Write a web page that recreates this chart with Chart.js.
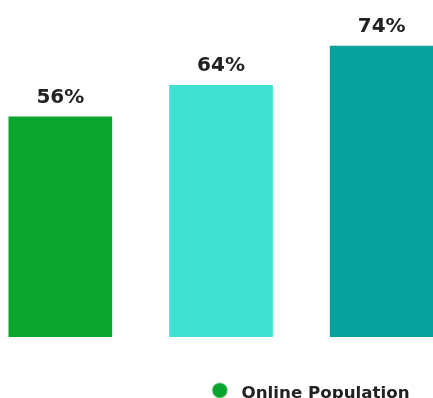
<!DOCTYPE html>
<html>
<head>
<meta charset="utf-8">
<script src="https://cdn.jsdelivr.net/npm/chart.js@4/dist/chart.umd.min.js"></script>
<style>
  html, body { margin: 0; padding: 0; background: #ffffff; overflow: hidden; width: 433px; height: 398px; }
  #wrap { position: absolute; left: -20px; top: 0; }
</style>
</head>
<body>
<div id="wrap"><canvas id="chart" width="666" height="412"></canvas></div>
<script>
// Share of population online, by group
const categories = ['Group A', 'Group B', 'Group C'];
const onlinePopulation = [56, 64, 74];
const barColors = ['#0aa52e', '#3fdfd2', '#06a19a'];
const seriesLabel = 'Online Population';

const textColor = '#222222';
const fontFamily = '"DejaVu Sans", sans-serif';

// Round legend marker, drawn left of and above its slot centre
function makeLegendDot(color) {
  const c = document.createElement('canvas');
  c.width = 30;
  c.height = 24;
  const g = c.getContext('2d');
  g.fillStyle = color;
  g.beginPath();
  g.arc(10, 8.65, 7.5, 0, Math.PI * 2);
  g.fill();
  return c;
}

// Percentage labels above each bar
const valueLabels = {
  id: 'valueLabels',
  afterDatasetsDraw(chart) {
    const { ctx } = chart;
    const meta = chart.getDatasetMeta(0);
    ctx.save();
    ctx.font = 'bold 20px ' + fontFamily;
    ctx.fillStyle = textColor;
    ctx.textAlign = 'center';
    ctx.textBaseline = 'alphabetic';
    meta.data.forEach((bar, i) => {
      ctx.fillText(onlinePopulation[i] + '%', bar.x, bar.y - 14);
    });
    ctx.restore();
  }
};

new Chart(document.getElementById('chart'), {
  type: 'bar',
  data: {
    labels: categories,
    datasets: [{
      label: seriesLabel,
      data: onlinePopulation,
      backgroundColor: barColors,
      borderWidth: 0,
      barThickness: 103
    }]
  },
  options: {
    responsive: false,
    animation: false,
    devicePixelRatio: 1,
    layout: { padding: 0 },
    scales: {
      x: { display: false },
      y: {
        position: 'right',
        min: 0,
        max: 85.7,
        ticks: { display: false },
        grid: { display: false },
        border: { display: false },
        afterFit(scale) { scale.width = 184; }
      }
    },
    plugins: {
      tooltip: { enabled: false },
      legend: {
        position: 'bottom',
        align: 'center',
        labels: {
          usePointStyle: true,
          pointStyle: makeLegendDot(barColors[0]),
          padding: 48.3,
          color: textColor,
          font: { family: fontFamily, size: 16.7, weight: 'bold' }
        }
      }
    }
  },
  plugins: [valueLabels]
});
</script>
</body>
</html>
